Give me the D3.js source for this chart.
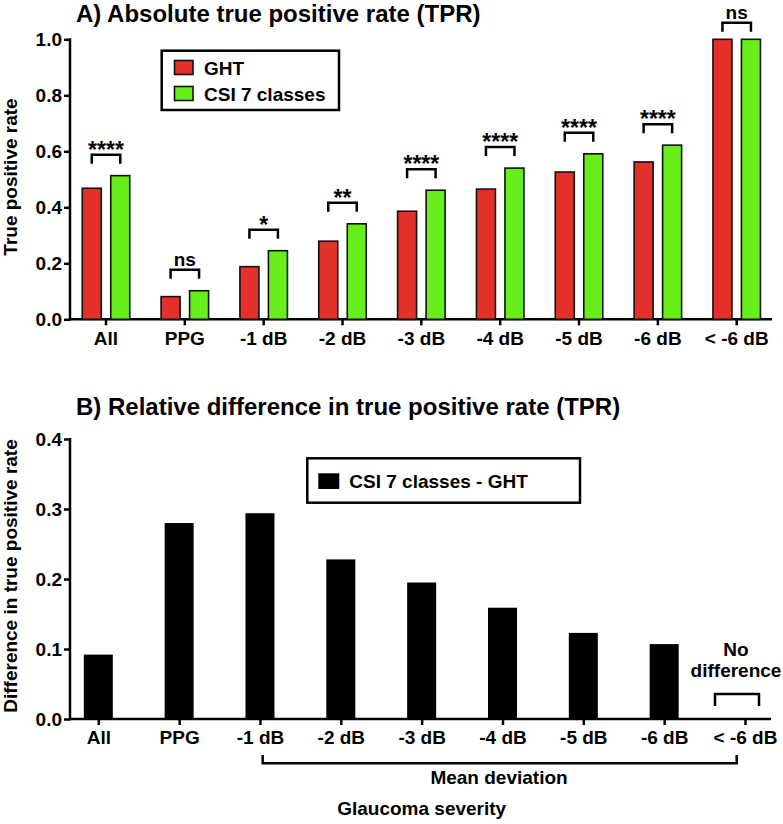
<!DOCTYPE html>
<html lang="en">
<head>
    <meta charset="UTF-8">
    <title>TPR chart</title>
    <script src="https://d3js.org/d3.v7.min.js"></script>
    <style>
        body { margin: 0; background: #fff; }
        text { font-family: "Liberation Sans", Arial, sans-serif; font-weight: bold; fill: #000; }
    </style>
</head>
<body>
    <script>
        // categories and values
        var categories = ["All", "PPG", "-1 dB", "-2 dB", "-3 dB", "-4 dB", "-5 dB", "-6 dB", "< -6 dB"];
        var ghtTPR = [0.468, 0.081, 0.188, 0.279, 0.386, 0.465, 0.526, 0.562, 1.0];
        var csiTPR = [0.513, 0.102, 0.245, 0.341, 0.461, 0.540, 0.591, 0.622, 1.0];
        var sigLabels = ["****", "ns", "*", "**", "****", "****", "****", "****", "ns"];
        var relDiff = [0.092, 0.280, 0.294, 0.228, 0.195, 0.159, 0.123, 0.107, null];
        var ticksA = [0.0, 0.2, 0.4, 0.6, 0.8, 1.0];
        var ticksB = [0.0, 0.1, 0.2, 0.3, 0.4];
        var seriesNames = ["GHT", "CSI 7 classes"];
        var seriesColors = ["#e3302a", "#68ef1b"];

        var width = 783, height = 824;
        var svg = d3.select("body").append("svg")
            .attr("width", width)
            .attr("height", height);

        function styleAxis(g) {
            g.select(".domain").remove();
            g.selectAll(".tick line").attr("stroke", "#000").attr("stroke-width", 2.5);
            g.selectAll(".tick text").style("font-size", "19px").style("font-family", "Liberation Sans, Arial, sans-serif").style("font-weight", "bold");
        }

        // ---------- panel A ----------
        var xA = d3.scalePoint().domain(categories).range([105.5, 736.2]);
        var yA = d3.scaleLinear().domain([0, 1]).range([319.3, 39.3]);

        svg.append("text").attr("x", 76).attr("y", 22)
            .style("font-size", "24px").text("A) Absolute true positive rate (TPR)");

        var gyA = svg.append("g").attr("transform", "translate(70,0)")
            .call(d3.axisLeft(yA).tickValues(ticksA).tickFormat(d3.format(".1f")).tickSize(6).tickPadding(2));
        styleAxis(gyA);
        var gxA = svg.append("g").attr("transform", "translate(0,319.3)")
            .call(d3.axisBottom(xA).tickSize(6).tickPadding(6));
        styleAxis(gxA);
        gxA.selectAll(".tick text").attr("dy", "0.71em");

        svg.append("line").attr("x1", 70).attr("x2", 772).attr("y1", yA(0)).attr("y2", yA(0))
            .attr("stroke", "#000").attr("stroke-width", 2.5);
        svg.append("line").attr("x1", 70).attr("x2", 70).attr("y1", yA(1) - 1).attr("y2", yA(0) + 1.2)
            .attr("stroke", "#000").attr("stroke-width", 2.5);

        svg.append("text").attr("transform", "translate(16.5,177) rotate(-90)")
            .attr("text-anchor", "middle").style("font-size", "19px").text("True positive rate");

        var seriesA = [ghtTPR, csiTPR];
        var offsets = [-13.75, 14.75];
        seriesA.forEach(function (vals, s) {
            svg.append("g").selectAll("rect")
                .data(vals)
                .enter()
                .append("rect")
                .attr("x", function (d, i) { return xA(categories[i]) + offsets[s] - 9.5; })
                .attr("y", function (d) { return yA(d); })
                .attr("width", 19)
                .attr("height", function (d) { return yA(0) - yA(d); })
                .attr("fill", seriesColors[s])
                .attr("stroke", "#111")
                .attr("stroke-width", 1.6);
        });

        // significance brackets
        var sig = svg.append("g");
        categories.forEach(function (c, i) {
            var top = Math.max(yA(Math.max(ghtTPR[i], csiTPR[i])) - 21, 22.7);
            var x1 = xA(c) + offsets[0], x2 = xA(c) + offsets[1];
            sig.append("path")
                .attr("d", "M" + x1 + "," + (top + 9) + "V" + top + "H" + x2 + "V" + (top + 9))
                .attr("fill", "none").attr("stroke", "#000").attr("stroke-width", 2.5);
            var star = sigLabels[i].indexOf("*") >= 0;
            sig.append("text")
                .attr("x", (x1 + x2) / 2)
                .attr("y", star ? top + 3 : top - 4.2)
                .attr("text-anchor", "middle")
                .style("font-size", star ? "23px" : "19px")
                .text(sigLabels[i]);
        });

        // legend A
        var legA = svg.append("g");
        legA.append("rect").attr("x", 161.7).attr("y", 50.7).attr("width", 177.3).attr("height", 59.3)
            .attr("fill", "#fff").attr("stroke", "#000").attr("stroke-width", 2.5);
        seriesNames.forEach(function (name, s) {
            legA.append("rect").attr("x", 174.5).attr("y", 60.5 + s * 26).attr("width", 18.5).attr("height", 14)
                .attr("fill", seriesColors[s]).attr("stroke", "#111").attr("stroke-width", 1.6);
            legA.append("text").attr("x", 204).attr("y", 74.7 + s * 26)
                .style("font-size", "19px").text(name);
        });

        // ---------- panel B ----------
        var xB = d3.scalePoint().domain(categories).range([98.3, 745]);
        var yB = d3.scaleLinear().domain([0, 0.4]).range([719, 439]);

        svg.append("text").attr("x", 76).attr("y", 415)
            .style("font-size", "24px").text("B) Relative difference in true positive rate (TPR)");

        var gyB = svg.append("g").attr("transform", "translate(70,0)")
            .call(d3.axisLeft(yB).tickValues(ticksB).tickFormat(d3.format(".1f")).tickSize(6).tickPadding(2));
        styleAxis(gyB);
        var gxB = svg.append("g").attr("transform", "translate(0,719)")
            .call(d3.axisBottom(xB).tickSize(6).tickPadding(6));
        styleAxis(gxB);
        gxB.selectAll(".tick text").attr("dy", "0.71em");

        svg.append("line").attr("x1", 70).attr("x2", 771).attr("y1", yB(0)).attr("y2", yB(0))
            .attr("stroke", "#000").attr("stroke-width", 2.5);
        svg.append("line").attr("x1", 70).attr("x2", 70).attr("y1", yB(0.4) - 1).attr("y2", yB(0) + 1.2)
            .attr("stroke", "#000").attr("stroke-width", 2.5);

        svg.append("text").attr("transform", "translate(16.5,576) rotate(-90)")
            .attr("text-anchor", "middle").style("font-size", "19px").text("Difference in true positive rate");

        svg.append("g").selectAll("rect")
            .data(relDiff.filter(function (d) { return d !== null; }))
            .enter()
            .append("rect")
            .attr("x", function (d, i) { return xB(categories[i]) - 14.5; })
            .attr("y", function (d) { return yB(d); })
            .attr("width", 29)
            .attr("height", function (d) { return yB(0) - yB(d); })
            .attr("fill", "#000");

        // legend B
        var legB = svg.append("g");
        legB.append("rect").attr("x", 307.3).attr("y", 458.3).attr("width", 272.7).attr("height", 44.4)
            .attr("fill", "#fff").attr("stroke", "#000").attr("stroke-width", 2.5);
        legB.append("rect").attr("x", 318.3).attr("y", 473.3).attr("width", 21).attr("height", 15.7).attr("fill", "#000");
        legB.append("text").attr("x", 349.3).attr("y", 487.5).style("font-size", "19px").text("CSI 7 classes - GHT");

        // "No difference" bracket over the last category
        var cLast = xB(categories[8]);
        svg.append("path")
            .attr("d", "M" + (cLast - 30) + ",706V694H" + (cLast + 14) + "V706")
            .attr("fill", "none").attr("stroke", "#000").attr("stroke-width", 2.5);
        svg.append("text").attr("x", cLast - 9).attr("y", 655.7).attr("text-anchor", "middle")
            .style("font-size", "19px").text("No");
        svg.append("text").attr("x", cLast - 9).attr("y", 676.7).attr("text-anchor", "middle")
            .style("font-size", "19px").text("difference");

        // mean deviation bracket
        var mdX1 = xB(categories[2]) + 2.7, mdX2 = cLast - 8.3;
        svg.append("path")
            .attr("d", "M" + mdX1 + ",755V763.3H" + mdX2 + "V755")
            .attr("fill", "none").attr("stroke", "#000").attr("stroke-width", 2.5);
        svg.append("text").attr("x", 499).attr("y", 783.5).attr("text-anchor", "middle")
            .style("font-size", "19px").text("Mean deviation");

        svg.append("text").attr("x", 421.7).attr("y", 815).attr("text-anchor", "middle")
            .style("font-size", "19px").text("Glaucoma severity");
    </script>
</body>
</html>
